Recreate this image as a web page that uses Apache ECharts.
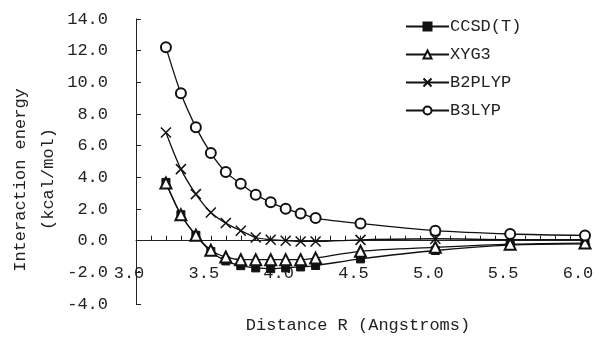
<!DOCTYPE html>
<html>
<head>
<meta charset="utf-8">
<script src="https://cdn.jsdelivr.net/npm/echarts@6/dist/echarts.min.js"></script>
<style>html,body{margin:0;padding:0;background:#fff;}#c{width:599px;height:349px;}</style>
</head>
<body>
<div id="c"></div>
<script>
const distances = [3.2, 3.3, 3.4, 3.5, 3.6, 3.7, 3.8, 3.9, 4.0, 4.1, 4.2, 4.5, 5.0, 5.5, 6.0];
const ccsdt  = [3.68, 1.64, 0.34, -0.68, -1.28, -1.58, -1.72, -1.77, -1.72, -1.66, -1.57, -1.15, -0.62, -0.28, -0.2];
const xyg3   = [3.64, 1.64, 0.34, -0.6, -1.03, -1.2, -1.2, -1.2, -1.2, -1.2, -1.1, -0.67, -0.42, -0.22, -0.15];
const b2plyp = [6.83, 4.52, 2.94, 1.78, 1.11, 0.63, 0.2, 0.06, 0.0, -0.05, -0.05, 0.05, 0.12, 0.06, 0.06];
const b3lyp  = [12.21, 9.31, 7.17, 5.53, 4.33, 3.59, 2.9, 2.42, 2.02, 1.72, 1.43, 1.08, 0.63, 0.42, 0.33];
const seriesNames = ['CCSD(T)', 'XYG3', 'B2PLYP', 'B3LYP'];
const yTicks = {min: -4, max: 14, step: 2};
const xTicks = {min: 3.0, max: 6.0, step: 0.1, labelStep: 0.5};

const FONT = '"Liberation Mono", monospace';
const pair = arr => distances.map((d, i) => [d, arr[i]]);

const GRID = {left: 136, right: 14, top: 19, bottom: 45};
const plotH = 349 - GRID.top - GRID.bottom;
// move the x axis up to where y = 0 sits
const zeroOffset = -plotH * (0 - yTicks.min) / (yTicks.max - yTicks.min);

const base = {
  type: 'line', smooth: 0.3,
  lineStyle: {color: '#111', width: 1.3},
  emphasis: {disabled: true}
};

const chart = echarts.init(document.getElementById('c'), null, {renderer: 'canvas'});
chart.setOption({
  animation: false,
  backgroundColor: '#fff',
  grid: GRID,
  legend: {
    orient: 'vertical', left: 400, top: 13,
    itemWidth: 43, itemHeight: 10, itemGap: 11,
    textStyle: {fontFamily: FONT, fontSize: 17, color: '#222', padding: [0, 0, 0, -4]},
    data: seriesNames
  },
  xAxis: {
    type: 'value', min: xTicks.min, max: xTicks.max, interval: xTicks.step,
    offset: zeroOffset,
    axisLine: {onZero: false, lineStyle: {color: '#222', width: 1}},
    axisTick: {inside: true, length: 5, lineStyle: {color: '#222'}},
    splitLine: {show: false},
    axisLabel: {
      fontFamily: FONT, fontSize: 17, color: '#222', margin: 24,
      padding: [0, 14, 0, 0],
      formatter: v => {
        const k = (v - xTicks.min) / xTicks.labelStep;
        return Math.abs(k - Math.round(k)) < 1e-6 ? v.toFixed(1) : '';
      }
    }
  },
  yAxis: {
    type: 'value', min: yTicks.min, max: yTicks.max, interval: yTicks.step,
    axisLine: {show: true, lineStyle: {color: '#222', width: 1}},
    axisTick: {show: true, inside: true, length: 5, lineStyle: {color: '#222'}},
    splitLine: {show: false},
    axisLabel: {fontFamily: FONT, fontSize: 17, color: '#222', margin: 28, formatter: v => v.toFixed(1)}
  },
  graphic: [
    {type: 'text', rotation: Math.PI / 2, x: 20, y: 180, style: {text: 'Interaction energy', fontFamily: FONT, fontSize: 17, fill: '#222', textAlign: 'center', textVerticalAlign: 'middle'}},
    {type: 'text', rotation: Math.PI / 2, x: 48, y: 179, style: {text: '(kcal/mol)', fontFamily: FONT, fontSize: 17, fill: '#222', textAlign: 'center', textVerticalAlign: 'middle'}},
    {type: 'text', x: 358, y: 325, style: {text: 'Distance R (Angstroms)', fontFamily: FONT, fontSize: 17, fill: '#222', textAlign: 'center', textVerticalAlign: 'middle'}}
  ],
  series: [
    Object.assign({}, base, {name: seriesNames[0], data: pair(ccsdt), symbol: 'rect', symbolSize: 8,
      itemStyle: {color: '#111', borderColor: '#111', borderWidth: 1}}),
    Object.assign({}, base, {name: seriesNames[1], data: pair(xyg3), symbol: 'emptyTriangle', symbolSize: 11,
      itemStyle: {color: '#111', borderColor: '#111', borderWidth: 1.5}}),
    Object.assign({}, base, {name: seriesNames[2], data: pair(b2plyp), symbol: 'path://M0,0L10,10M10,0L0,10', symbolSize: 10,
      itemStyle: {color: 'rgba(0,0,0,0)', borderColor: '#111', borderWidth: 1.5}}),
    Object.assign({}, base, {name: seriesNames[3], data: pair(b3lyp), symbol: 'emptyCircle', symbolSize: 10,
      itemStyle: {color: '#111', borderColor: '#111', borderWidth: 1.3}})
  ]
});
</script>
</body>
</html>
